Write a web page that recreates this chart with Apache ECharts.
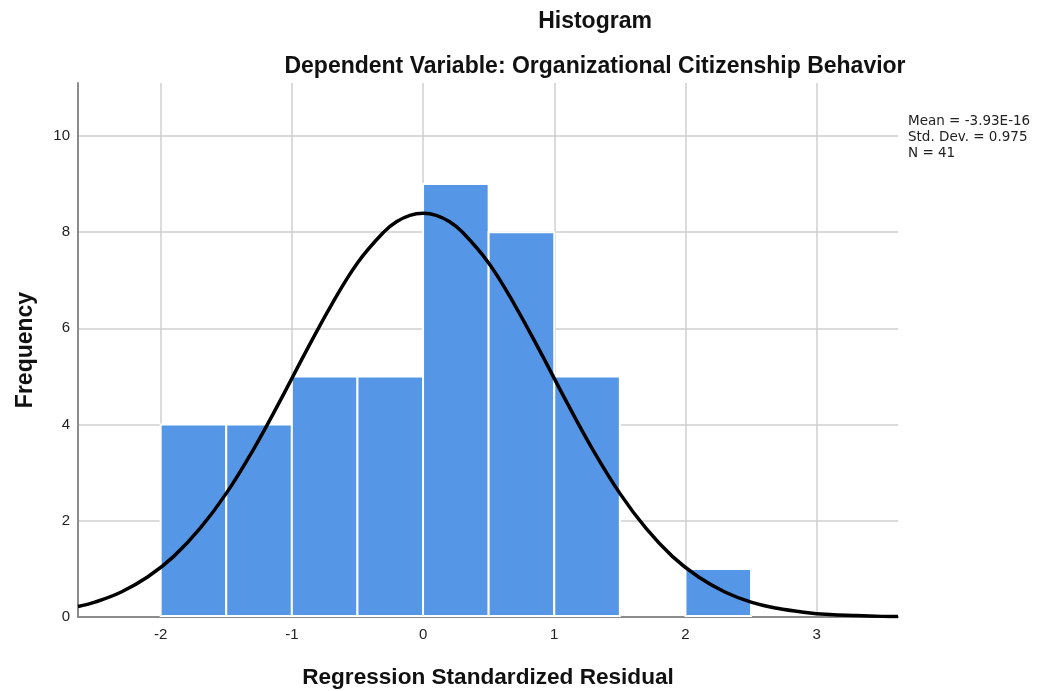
<!DOCTYPE html>
<html>
<head>
<meta charset="utf-8">
<script src="https://cdn.jsdelivr.net/npm/echarts@6/dist/echarts.min.js"></script>
<style>
  html, body { margin: 0; padding: 0; background: #fff; }
  #main { width: 1038px; height: 691px; }
</style>
</head>
<body>
<div id="main"></div>
<script>
var chart = echarts.init(document.getElementById('main'));

// histogram bins (width 0.5) and counts
var binStart = [-2, -1.5, -1, -0.5, 0, 0.5, 1, 1.5, 2];
var binEnd   = [-1.5, -1, -0.5, 0, 0.5, 1, 1.5, 2, 2.5];
var counts   = [4, 4, 5, 5, 9, 8, 5, 0, 1];

// normal curve
var curveX = [-2.63, -2.5, -2.3, -2.1, -1.9, -1.7, -1.5, -1.3, -1.1, -0.9, -0.7, -0.5, -0.3, -0.2, -0.1, 0,
              0.1, 0.2, 0.3, 0.5, 0.7, 0.9, 1.1, 1.3, 1.5, 1.7, 1.9, 2.1, 2.3, 2.5, 2.7, 2.9, 3.1, 3.3, 3.5, 3.62];
var curveY = [0.22, 0.31, 0.52, 0.83, 1.26, 1.84, 2.57, 3.45, 4.44, 5.48, 6.48, 7.36, 8.0, 8.22, 8.35, 8.39,
              8.35, 8.22, 8.0, 7.36, 6.48, 5.48, 4.44, 3.45, 2.57, 1.84, 1.26, 0.83, 0.52, 0.31, 0.18, 0.10, 0.05, 0.03, 0.013, 0.009];

var xTicks = [-2, -1, 0, 1, 2, 3];
var yTicks = [0, 2, 4, 6, 8, 10];

var statsText = ['Mean = -3.93E-16', 'Std. Dev. = 0.975', 'N = 41'];

var bars = binStart.map(function (s, i) { return [s, binEnd[i], counts[i]]; });
var curve = curveX.map(function (x, i) { return [x, curveY[i]]; });

var font = 'Arial, "Liberation Sans", sans-serif';

var option = {
    animation: false,
    title: [
        {
            text: 'Histogram',
            left: 590, top: 5, textAlign: 'center',
            textStyle: { fontFamily: font, fontSize: 23, fontWeight: 'bold', color: '#111' }
        },
        {
            text: 'Dependent Variable: Organizational Citizenship Behavior',
            left: 590, top: 50, textAlign: 'center',
            textStyle: { fontFamily: font, fontSize: 23, fontWeight: 'bold', color: '#111' }
        }
    ],
    graphic: [{
        type: 'text',
        left: 908, top: 113,
        style: {
            text: statsText.join('\n'),
            font: '13.5px "DejaVu Sans", sans-serif',
            lineHeight: 16,
            fill: '#222'
        }
    }],
    grid: { left: 78, right: 140, top: 83, bottom: 74, outerBoundsMode: 'none' },
    xAxis: {
        type: 'value',
        min: -2.63, max: 3.62,
        name: 'Regression Standardized Residual',
        nameLocation: 'middle',
        nameGap: 49,
        nameTextStyle: { fontFamily: font, fontSize: 22.6, fontWeight: 'bold', color: '#111' },
        axisLine: { onZero: false, lineStyle: { color: '#8c8c8c', width: 2 } },
        axisTick: { show: false, customValues: xTicks },
        axisLabel: { customValues: xTicks, fontFamily: font, fontSize: 15, color: '#222', margin: 10 },
        splitLine: { show: true, lineStyle: { color: '#cfcfcf', width: 1.5 } }
    },
    yAxis: {
        type: 'value',
        min: 0, max: 11.1,
        name: 'Frequency',
        nameLocation: 'middle',
        nameGap: 41,
        nameTextStyle: { fontFamily: font, fontSize: 23, fontWeight: 'bold', color: '#111' },
        axisLine: { show: true, onZero: false, lineStyle: { color: '#8c8c8c', width: 2 } },
        axisTick: { show: false, customValues: yTicks },
        axisLabel: { customValues: yTicks, fontFamily: font, fontSize: 15, color: '#222', margin: 8 },
        splitLine: { show: true, lineStyle: { color: '#cfcfcf', width: 1.5 } }
    },
    series: [
        {
            type: 'custom',
            data: bars,
            encode: { x: [0, 1], y: 2 },
            renderItem: function (params, api) {
                if (api.value(2) <= 0) return;
                var p0 = api.coord([api.value(0), api.value(2)]);
                var p1 = api.coord([api.value(1), 0]);
                return {
                    type: 'rect',
                    shape: { x: p0[0], y: p0[1], width: p1[0] - p0[0], height: p1[1] - p0[1] - 1 },
                    style: { fill: '#5596e6', stroke: '#ffffff', lineWidth: 2 }
                };
            },
            z: 2
        },
        {
            type: 'line',
            data: curve,
            smooth: 0.4,
            showSymbol: false,
            lineStyle: { color: '#000', width: 3.5 },
            z: 3
        }
    ]
};

chart.setOption(option);
</script>
</body>
</html>
